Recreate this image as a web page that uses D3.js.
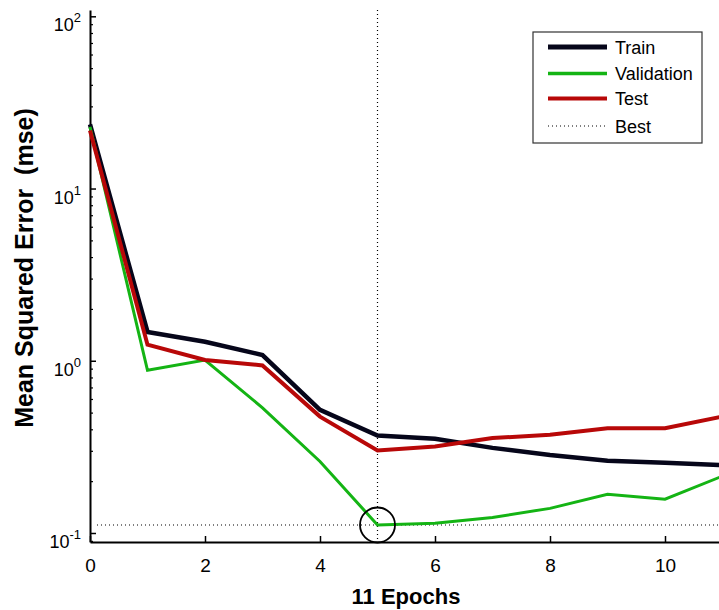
<!DOCTYPE html>
<html>
<head>
<meta charset="utf-8">
<script src="https://cdn.jsdelivr.net/npm/d3@7"></script>
<style>
  body { margin: 0; background: #fff; }
  svg { font-family: "Liberation Sans", Arial, sans-serif; }
</style>
</head>
<body>
<div id="chart"></div>
<script>
// Values
const epochs = [0, 1, 2, 3, 4, 5, 6, 7, 8, 9, 10, 11];
const train = [23.6, 1.47, 1.29, 1.08, 0.519, 0.368, 0.352, 0.312, 0.284, 0.263, 0.256, 0.248];
const validation = [22.8, 0.88, 1.01, 0.533, 0.26, 0.1113, 0.1138, 0.123, 0.139, 0.168, 0.157, 0.214];
const test = [21.7, 1.24, 1.01, 0.94, 0.474, 0.301, 0.318, 0.356, 0.372, 0.406, 0.406, 0.474];
const xTicks = [0, 2, 4, 6, 8, 10];
const yExponents = [-1, 0, 1, 2];
const seriesNames = ["Train", "Validation", "Test", "Best"];
const bestEpoch = 5;
const bestValue = validation[bestEpoch];

const width = 719, height = 610;
const plotLeft = 90, plotRight = 722.5, plotTop = 10, plotBottom = 542;

const svg = d3.select("#chart").append("svg")
    .attr("width", width)
    .attr("height", height);

const x = d3.scaleLinear().domain([0, 11]).range([plotLeft, plotRight]);
const y = d3.scaleLog().domain([Math.pow(10, -1.0523), Math.pow(10, 2.0366)]).range([plotBottom, plotTop]);

// minor ticks on the log axis
const minor = [];
for (let e = -2; e <= 2; e++) {
    for (let m = 2; m <= 9; m++) {
        const v = m * Math.pow(10, e);
        if (v >= y.domain()[0] && v <= y.domain()[1]) minor.push(v);
    }
}

svg.append("g")
    .attr("transform", "translate(" + plotLeft + ",0)")
    .call(d3.axisLeft(y).tickValues(minor).tickSize(-3).tickSizeOuter(0).tickFormat(""))
    .call(g => g.select(".domain").remove())
    .selectAll("line").attr("stroke", "#000").attr("stroke-width", 1.2);

const yAxis = svg.append("g")
    .attr("transform", "translate(" + plotLeft + ",0)")
    .call(d3.axisLeft(y).tickValues(yExponents.map(e => Math.pow(10, e))).tickSize(-6).tickSizeOuter(0).tickFormat(""));
yAxis.select(".domain").attr("stroke", "#000").attr("stroke-width", 2);
yAxis.selectAll("line").attr("stroke", "#000").attr("stroke-width", 1.5);

// y tick labels as 10 with a superscript
yExponents.forEach(e => {
    const ty = y(Math.pow(10, e));
    const t = svg.append("text")
        .attr("x", 81)
        .attr("y", ty + 15)
        .attr("text-anchor", "end")
        .attr("fill", "#000");
    t.append("tspan").attr("font-size", 18).text("10");
    t.append("tspan").attr("font-size", 13).attr("dy", -9).text(e);
});

const xAxis = svg.append("g")
    .attr("transform", "translate(0," + plotBottom + ")")
    .call(d3.axisBottom(x).tickValues(xTicks).tickSize(-6).tickSizeOuter(0).tickPadding(17));
xAxis.select(".domain").attr("stroke", "#000").attr("stroke-width", 2);
xAxis.selectAll("line").attr("stroke", "#000").attr("stroke-width", 1.5);
xAxis.selectAll("text")
    .attr("font-size", 19)
    .attr("font-family", "Liberation Sans, Arial, sans-serif")
    .attr("fill", "#000");

// axis titles
svg.append("text")
    .attr("x", 406)
    .attr("y", 604)
    .attr("text-anchor", "middle")
    .attr("font-size", 22)
    .attr("font-weight", "bold")
    .text(epochs.length - 1 + " Epochs");

svg.append("text")
    .attr("transform", "translate(33,268) rotate(-90)")
    .attr("text-anchor", "middle")
    .attr("font-size", 25)
    .attr("font-weight", "bold")
    .attr("xml:space", "preserve")
    .text("Mean Squared Error  (mse)");

// best markers
svg.append("line")
    .attr("x1", x(bestEpoch)).attr("x2", x(bestEpoch))
    .attr("y1", plotTop).attr("y2", plotBottom)
    .attr("stroke", "#000").attr("stroke-width", 1.2)
    .attr("stroke-dasharray", "1,3");

svg.append("line")
    .attr("x1", plotLeft + 7).attr("x2", width)
    .attr("y1", y(bestValue)).attr("y2", y(bestValue))
    .attr("stroke", "#000").attr("stroke-width", 1.2)
    .attr("stroke-dasharray", "1,3");

const line = d3.line()
    .x((d, i) => x(epochs[i]))
    .y(d => y(d));

const series = [
    { values: train, color: "#06061a", w: 4.5 },
    { values: validation, color: "#14b414", w: 3 },
    { values: test, color: "#b80808", w: 4 }
];

svg.selectAll(".series")
    .data(series)
    .enter().append("path")
    .attr("class", "series")
    .attr("d", d => line(d.values))
    .attr("fill", "none")
    .attr("stroke", d => d.color)
    .attr("stroke-width", d => d.w)
    .attr("stroke-linejoin", "miter");

svg.append("circle")
    .attr("cx", x(bestEpoch))
    .attr("cy", y(bestValue))
    .attr("r", 17.5)
    .attr("fill", "none")
    .attr("stroke", "#000")
    .attr("stroke-width", 1.8);

// legend
const legend = svg.append("g").attr("transform", "translate(533,32)");
legend.append("rect")
    .attr("width", 169)
    .attr("height", 111)
    .attr("fill", "#fff")
    .attr("stroke", "#333")
    .attr("stroke-width", 1.2);

const legendStyles = [
    { color: "#06061a", w: 5, dash: null },
    { color: "#14b414", w: 3.5, dash: null },
    { color: "#b80808", w: 4, dash: null },
    { color: "#000", w: 1.2, dash: "1,3" }
];
const rowY = [15, 41.5, 66.5, 94];

seriesNames.forEach((name, i) => {
    legend.append("line")
        .attr("x1", 15).attr("x2", 74)
        .attr("y1", rowY[i]).attr("y2", rowY[i])
        .attr("stroke", legendStyles[i].color)
        .attr("stroke-width", legendStyles[i].w)
        .attr("stroke-dasharray", legendStyles[i].dash);
    legend.append("text")
        .attr("x", 82)
        .attr("y", rowY[i] + 6.5)
        .attr("font-size", 18)
        .attr("fill", "#000")
        .text(name);
});
</script>
</body>
</html>
